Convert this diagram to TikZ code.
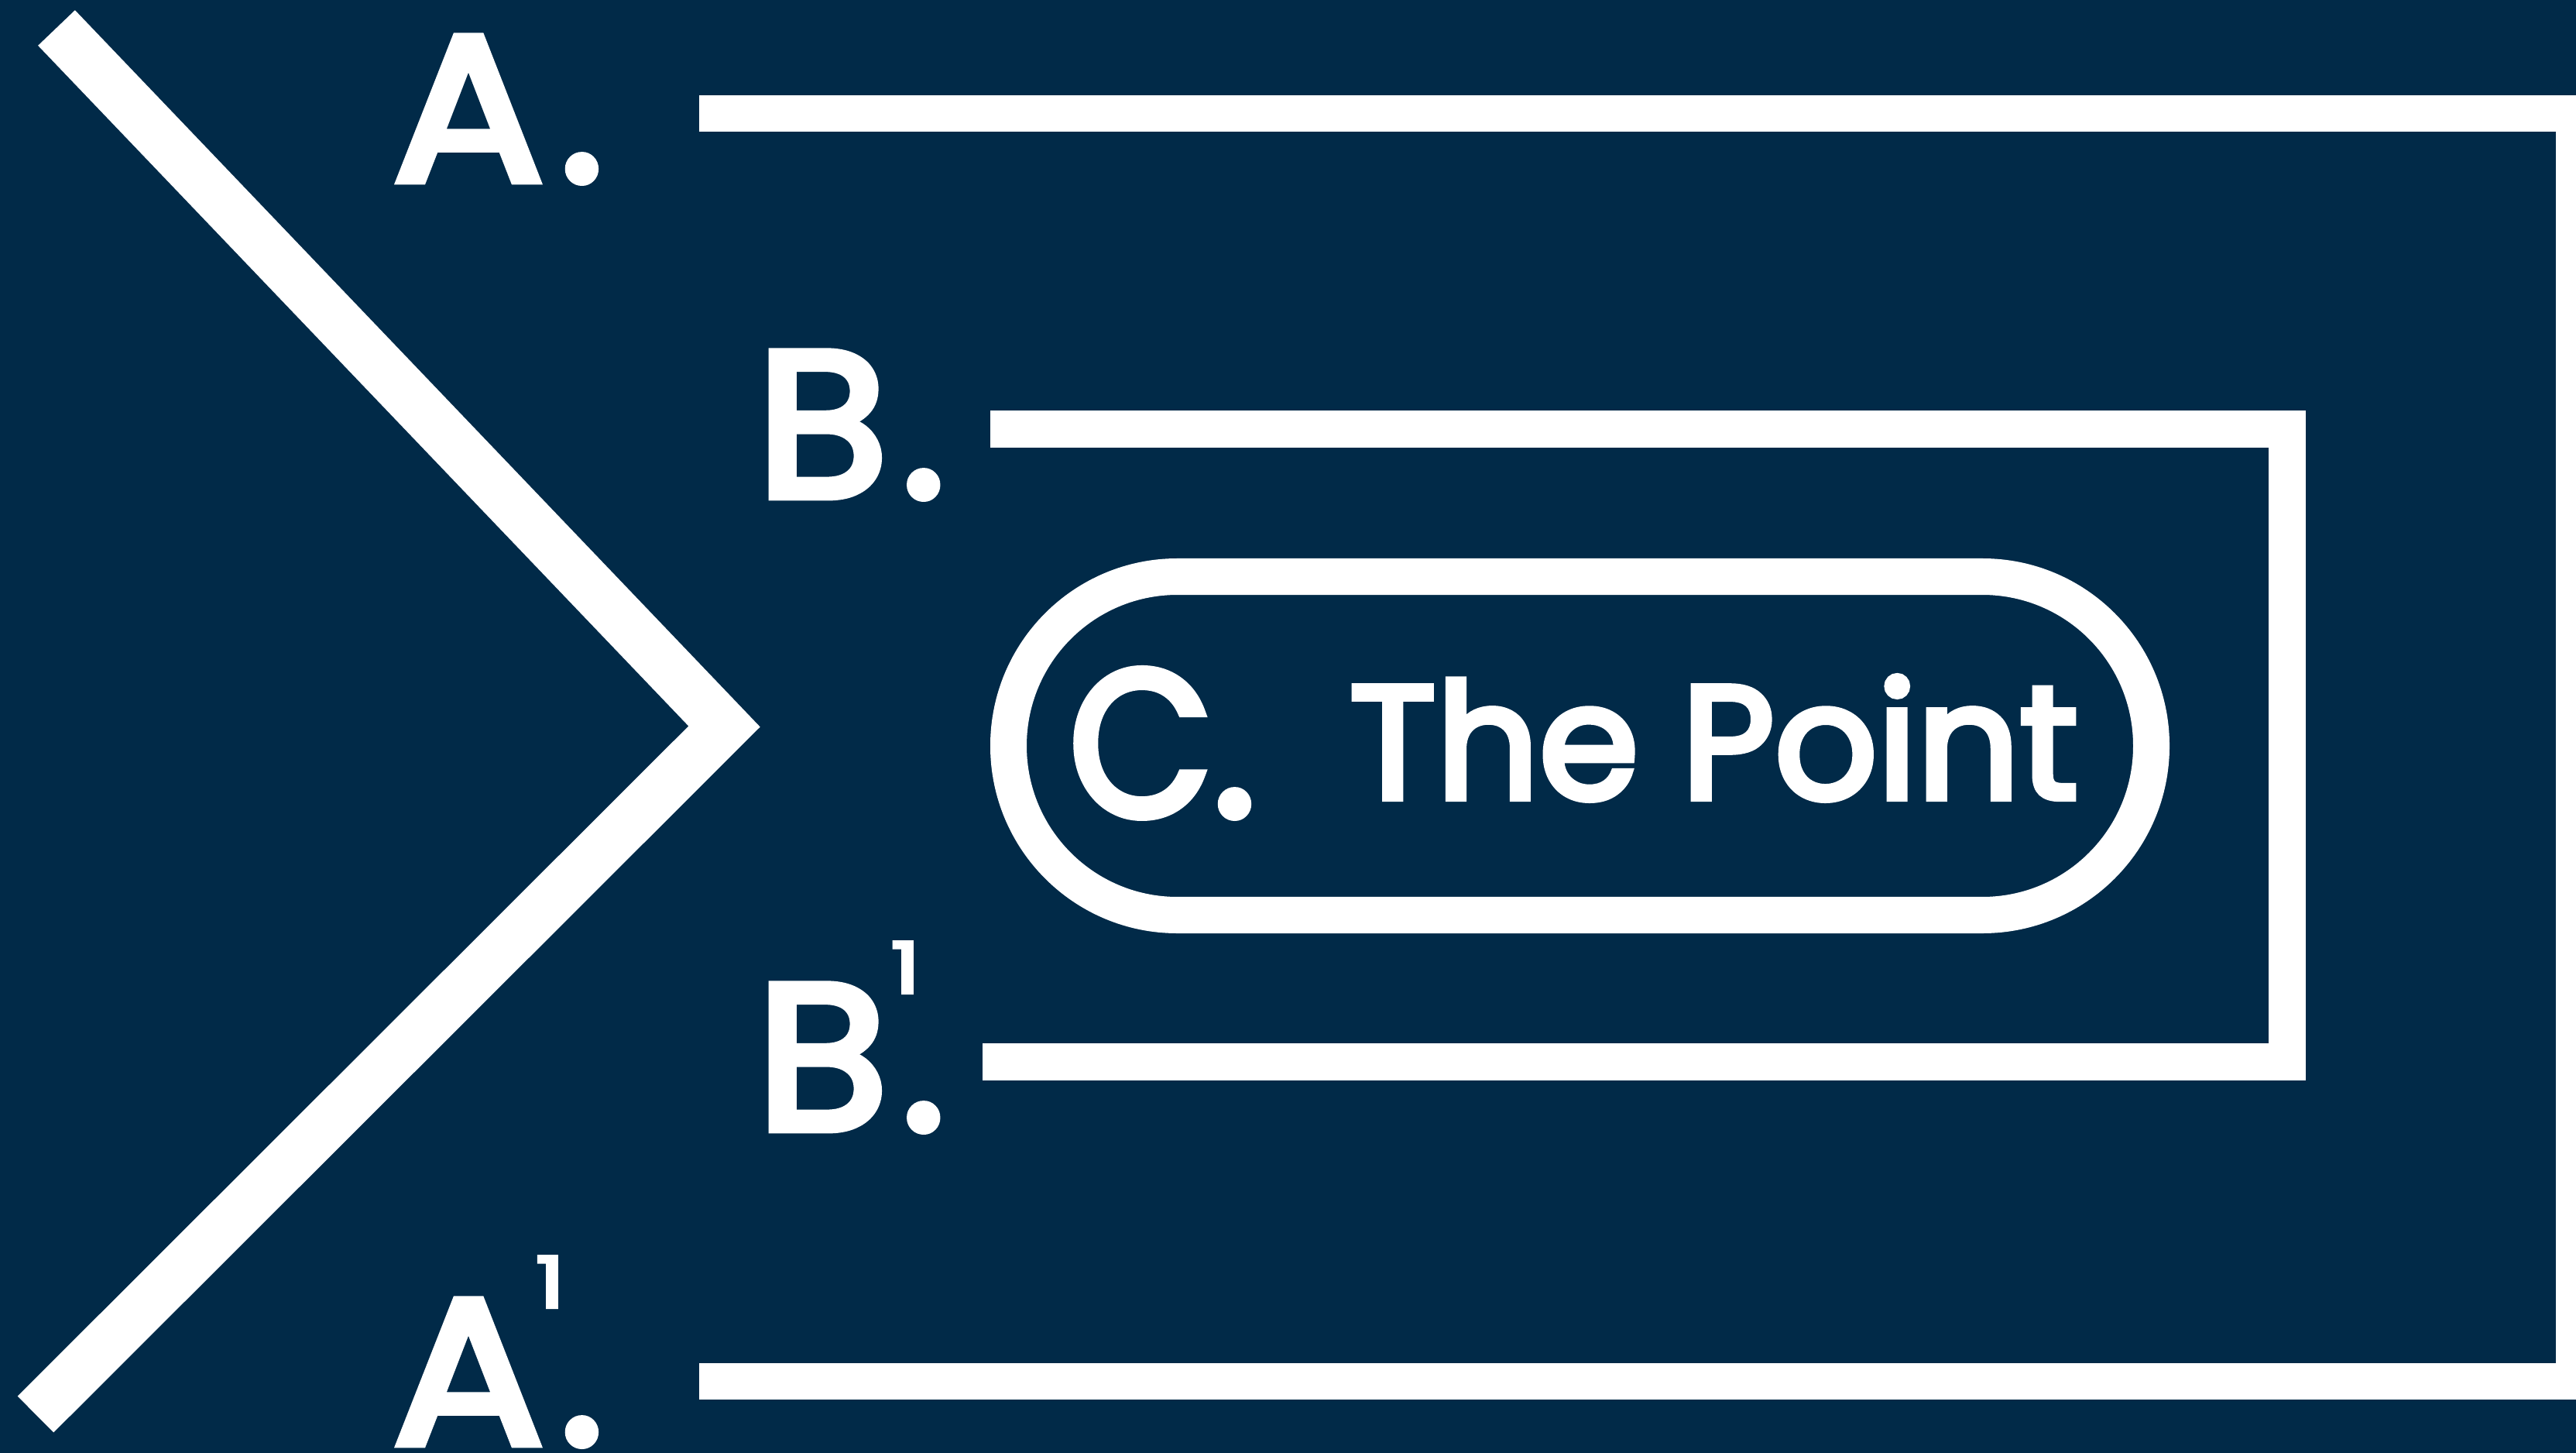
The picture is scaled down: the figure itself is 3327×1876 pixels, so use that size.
\documentclass[tikz,border=0pt]{standalone}
\usepackage{fontspec}
\setmainfont{Poppins}[FakeBold=4]
\definecolor{navy}{RGB}{1,42,72}
\newcommand{\supone}[1]{\rlap{\kern#1\raisebox{50pt}{\fontsize{26}{26}\selectfont\scalebox{1.3}[1]{1}}}}
\newcommand{\wide}[2]{\scalebox{#1}[1]{#2}}

\begin{document}
\begin{tikzpicture}[x=0.01cm, y=-0.01cm,
  bar/.style={draw=white, line width=0.47cm, line join=miter},
  letter/.style={text=white, inner sep=0pt, anchor=base west, font=\fontsize{76}{78}\selectfont},
  point/.style={text=white, inner sep=0pt, anchor=base west, font=\fontsize{59}{60}\selectfont},
]
\useasboundingbox (0,0) rectangle (3327,1876);
\clip (0,0) rectangle (3327,1876);
\fill[navy] (0,0) rectangle (3327,1876);

% chevron
\draw[draw=white, line width=0.66cm, line join=miter] (73,36) -- (935.5,938) -- (46,1826);

% brackets
\draw[bar] (903,146.5) -| (3324.5,1783.5) -- (903,1783.5);
\draw[bar, line width=0.48cm] (1279,554) -| (2954,1371) -- (1269,1371);

% the point
\draw[bar, rounded corners=2.18cm] (1302.5,744.5) rectangle (2778.5,1181.5);

% labels
\node[letter] (a) at (507,233) {\wide{1.08}{A}\kern6pt.};
\node[letter] (b) at (976,641) {\wide{1.04}{B}\kern5pt.};
\node[letter] (b1) at (976,1458) {\wide{1.04}{B}\supone{1pt}\kern5pt.};
\node[letter] (a1) at (507,1864) {\wide{1.08}{A}\supone{-3pt}\kern6pt.};
\node[letter] (c) at (1380,1053) {\wide{0.9}{C}\kern0pt.};
\node[point] (pt) at (1742,1031) {The Point};

\end{tikzpicture}
\end{document}
